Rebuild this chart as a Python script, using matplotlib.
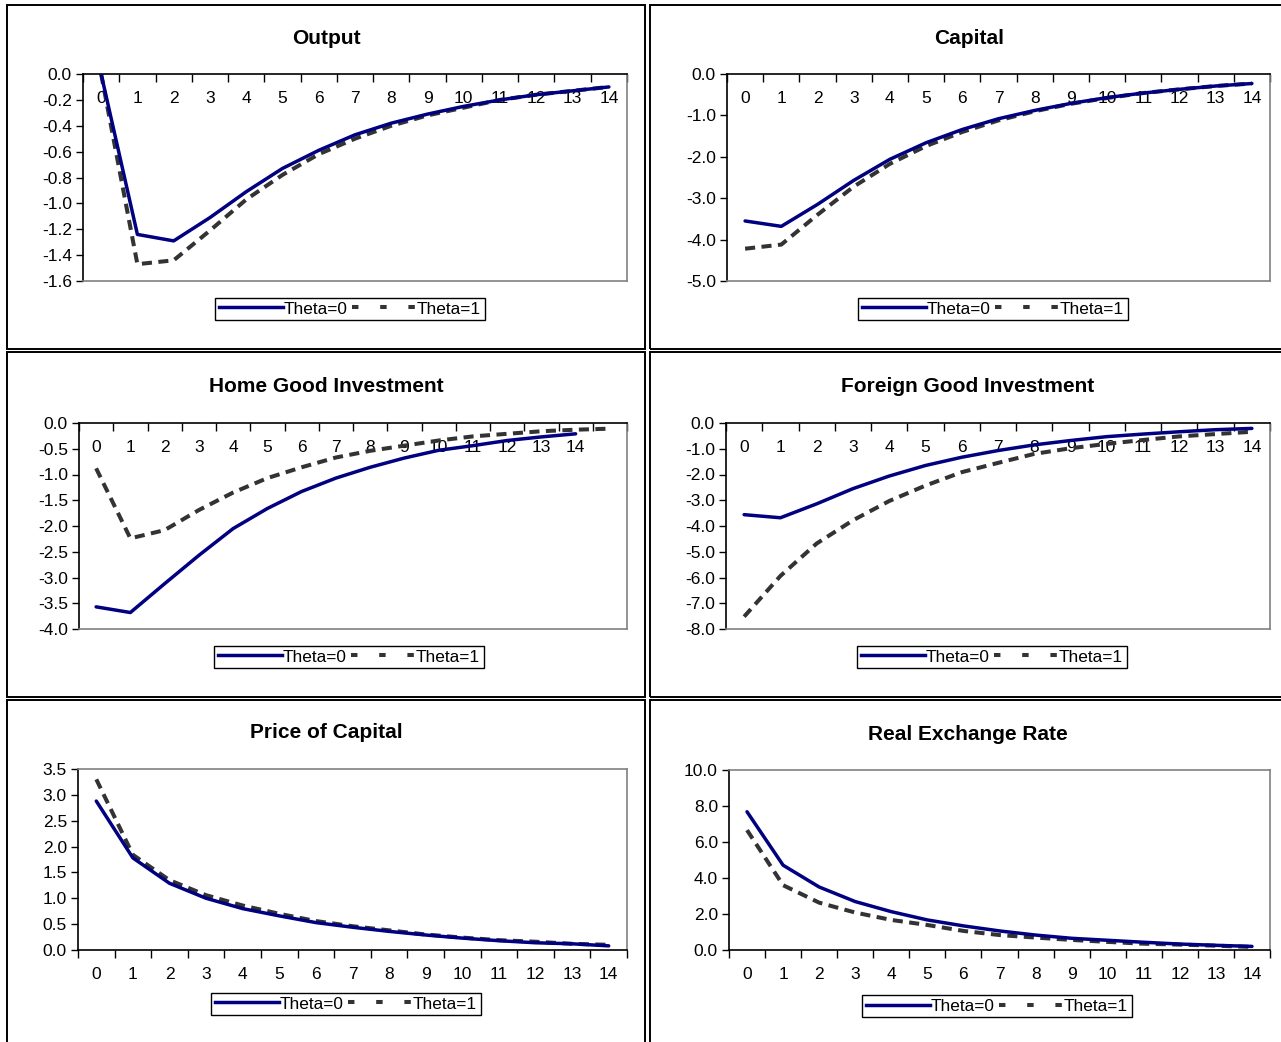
import numpy as np
import matplotlib.pyplot as plt
from matplotlib.lines import Line2D
from matplotlib.patches import Rectangle

plt.rcParams['font.family'] = ['Liberation Sans', 'DejaVu Sans']

W, H = 1281, 1042

periods = list(range(15))

output_t0 = [0.0, -1.24, -1.29, -1.11, -0.91, -0.73, -0.59, -0.47, -0.38, -0.31, -0.25, -0.20, -0.16, -0.13, -0.10]
output_t1 = [0.0, -1.47, -1.44, -1.21, -0.97, -0.78, -0.62, -0.50, -0.40, -0.32, -0.26, -0.20, -0.16, -0.13, -0.10]

capital_t0 = [-3.55, -3.68, -3.15, -2.57, -2.06, -1.66, -1.34, -1.08, -0.88, -0.71, -0.57, -0.46, -0.37, -0.29, -0.23]
capital_t1 = [-4.22, -4.12, -3.40, -2.72, -2.17, -1.74, -1.40, -1.12, -0.90, -0.72, -0.58, -0.46, -0.37, -0.29, -0.23]

home_t0 = [-3.57, -3.68, -3.12, -2.57, -2.05, -1.66, -1.33, -1.07, -0.86, -0.68, -0.53, -0.44, -0.34, -0.27, -0.21]
home_t1 = [-0.88, -2.24, -2.08, -1.69, -1.35, -1.07, -0.86, -0.67, -0.54, -0.44, -0.34, -0.26, -0.21, -0.16, -0.13, -0.11]

foreign_t0 = [-3.56, -3.68, -3.14, -2.55, -2.06, -1.65, -1.33, -1.07, -0.85, -0.68, -0.53, -0.43, -0.34, -0.26, -0.21]
foreign_t1 = [-7.52, -5.94, -4.68, -3.78, -3.03, -2.43, -1.91, -1.55, -1.20, -0.98, -0.81, -0.66, -0.52, -0.43, -0.34]

price_t0 = [2.88, 1.78, 1.29, 1.00, 0.80, 0.66, 0.53, 0.44, 0.36, 0.29, 0.23, 0.18, 0.14, 0.12, 0.08]
price_t1 = [3.30, 1.84, 1.35, 1.06, 0.86, 0.70, 0.56, 0.46, 0.38, 0.30, 0.24, 0.19, 0.16, 0.12, 0.10]

rer_t0 = [7.68, 4.71, 3.50, 2.69, 2.13, 1.67, 1.34, 1.06, 0.83, 0.65, 0.54, 0.43, 0.33, 0.26, 0.20]
rer_t1 = [6.66, 3.60, 2.63, 2.08, 1.67, 1.39, 1.06, 0.83, 0.69, 0.56, 0.45, 0.35, 0.30, 0.24, 0.17]

NAVY = '#000080'
DASH = '#333333'
GRAY = '#808080'


def px_rect(x0, y0, x1, y1):
    return [x0 / W, 1 - y1 / H, (x1 - x0) / W, (y1 - y0) / H]


fig = plt.figure(figsize=(W / 100, H / 100), dpi=100)

# panel frames
for fx0, fx1 in [(7, 645), (650, 1290)]:
    for fy0, fy1 in [(5, 349), (352, 697), (700, 1050)]:
        fig.patches.append(Rectangle((fx0 / W, 1 - fy1 / H), (fx1 - fx0) / W, (fy1 - fy0) / H,
                                     transform=fig.transFigure, fill=False,
                                     edgecolor='black', linewidth=1.4))

panels = [
    dict(title='Output', rect=(83, 74, 627, 281), ylim=(-1.6, 0.0), step=0.2,
         s0=output_t0, s1=output_t1, top=True, ncat=15, tx=326, ty=39, leg=(350, 309)),
    dict(title='Capital', rect=(727, 74, 1270, 281), ylim=(-5.0, 0.0), step=1.0,
         s0=capital_t0, s1=capital_t1, top=True, ncat=15, tx=969, ty=39, leg=(993, 309)),
    dict(title='Home Good Investment', rect=(79, 423, 627, 629), ylim=(-4.0, 0.0), step=0.5,
         s0=home_t0, s1=home_t1, top=True, ncat=16, tx=326, ty=387, leg=(349, 657)),
    dict(title='Foreign Good Investment', rect=(726, 423, 1270, 629), ylim=(-8.0, 0.0), step=1.0,
         s0=foreign_t0, s1=foreign_t1, top=True, ncat=15, tx=968, ty=387, leg=(992, 657)),
    dict(title='Price of Capital', rect=(78, 769, 627, 950), ylim=(0.0, 3.5), step=0.5,
         s0=price_t0, s1=price_t1, top=False, ncat=15, tx=326, ty=733, leg=(346, 1004)),
    dict(title='Real Exchange Rate', rect=(729, 770, 1270, 950), ylim=(0.0, 10.0), step=2.0,
         s0=rer_t0, s1=rer_t1, top=False, ncat=15, tx=968, ty=735, leg=(997, 1006)),
]

for p in panels:
    ax = fig.add_axes(px_rect(*p['rect']))
    n = p['ncat']
    ax.plot(np.arange(len(p['s1'])), p['s1'], color=DASH, lw=2.9,
            dashes=(2.5, 1.6), solid_capstyle='butt', zorder=2)
    ax.plot(np.arange(len(p['s0'])), p['s0'], color=NAVY, lw=2.5,
            solid_capstyle='round', zorder=3)
    ax.set_xlim(-0.5, n - 0.5)
    ax.set_ylim(*p['ylim'])
    lo, hi = p['ylim']
    yt = np.round(np.arange(lo, hi + p['step'] / 2, p['step']), 6) + 0.0
    ax.set_yticks(yt)
    ax.set_yticklabels(['%.1f' % abs(v) if abs(v) < 1e-9 else '%.1f' % v for v in yt])
    ax.tick_params(axis='y', direction='out', length=5, width=1, labelsize=12.5, pad=3)

    ax.set_xticks(periods)
    ax.set_xticklabels([str(i) for i in periods])
    ax.set_xticks(np.arange(-0.5, n, 1.0), minor=True)

    for s in ax.spines.values():
        s.set_color(GRAY)
        s.set_linewidth(1.2)
    ax.spines['left'].set_color('black')
    if p['top']:
        ax.spines['top'].set_color('black')
        ax.xaxis.set_ticks_position('top')
        ax.tick_params(axis='x', which='major', length=0, labelsize=12.5, pad=-23,
                       top=True, bottom=False, labeltop=True, labelbottom=False)
        ax.tick_params(axis='x', which='minor', direction='in', length=6, width=1,
                       top=True, bottom=False)
    else:
        ax.spines['bottom'].set_color('black')
        ax.tick_params(axis='x', which='major', length=0, labelsize=12.5, pad=12)
        ax.tick_params(axis='x', which='minor', direction='out', length=6, width=1)

    fig.text(p['tx'] / W, 1 - p['ty'] / H, p['title'], ha='center', va='center',
             fontsize=15, fontweight='bold')

    handles = [Line2D([], [], color=NAVY, lw=2.5),
               Line2D([], [], color=DASH, lw=2.9, dashes=(1.6, 5.4), solid_capstyle='butt')]
    leg = ax.legend(handles, ['Theta=0', 'Theta=1'], loc='center', ncol=2,
                    bbox_to_anchor=(p['leg'][0] / W, 1 - p['leg'][1] / H),
                    bbox_transform=fig.transFigure, fontsize=12.4, handlelength=3.7,
                    handletextpad=0.05, columnspacing=0.3, borderpad=0.2,
                    borderaxespad=0, fancybox=False, framealpha=1, edgecolor='black')
    leg.get_frame().set_linewidth(1.0)

fig.savefig('out.png', dpi=100)
